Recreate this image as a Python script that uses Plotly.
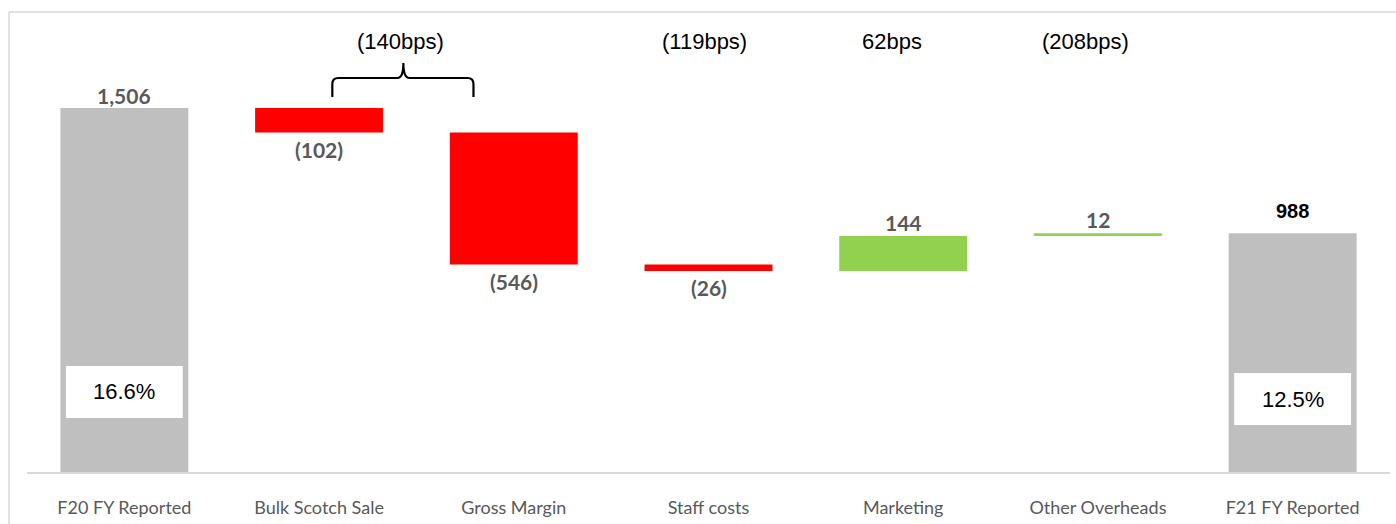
import plotly.graph_objects as go

categories = ["F20 FY Reported", "Bulk Scotch Sale", "Gross Margin", "Staff costs",
              "Marketing", "Other Overheads", "F21 FY Reported"]
values = [1506, -102, -546, -26, 144, 12, 988]
kinds = ["total", "delta", "delta", "delta", "delta", "delta", "total"]
value_labels = ["1,506", "(102)", "(546)", "(26)", "144", "12", "988"]
pct_labels = ["16.6%", "12.5%"]
pct_index = [0, 6]
bps_labels = ["(140bps)", "(119bps)", "62bps", "(208bps)"]
bps_pos = [1.42, 2.98, 3.94, 4.935]

GRAY, RED, GREEN = "#BFBFBF", "#FF0000", "#92D050"
W, H = 1396, 524
ML, MR, MT, MB = 27, 6, 12, 52
YMAX = 1903
px_per_x = (W - ML - MR) / 7.0
px_per_y = (H - MT - MB) / YMAX

bases, heights, colors = [], [], []
running = 0
for v, k in zip(values, kinds):
    if k == "total":
        bases.append(0); heights.append(v); colors.append(GRAY); running = v
    else:
        new = running + v
        bases.append(min(running, new)); heights.append(abs(v))
        colors.append(RED if v < 0 else GREEN); running = new

fig = go.Figure(go.Bar(
    x=list(range(len(categories))), y=heights, base=bases,
    marker=dict(color=colors, line=dict(width=0)), width=0.657,
    hoverinfo="skip"))

annotations = []
lab_font = dict(family="Lato", size=21, color="#595959")
for i, (v, k, lab) in enumerate(zip(values, kinds, value_labels)):
    top = bases[i] + heights[i]
    bot = bases[i]
    if k == "total":
        f = dict(lab_font) if i == 0 else dict(family="Liberation Sans", size=20, color="#000000")
        annotations.append(dict(x=i, y=top, text="<b>%s</b>" % lab, showarrow=False,
                                yanchor="bottom", yshift=(-2 if i == 0 else 9), font=f))
    elif v < 0:
        annotations.append(dict(x=i, y=bot, text="<b>%s</b>" % lab, showarrow=False,
                                yanchor="top", yshift=-2, font=lab_font))
    else:
        annotations.append(dict(x=i, y=top, text="<b>%s</b>" % lab, showarrow=False,
                                yanchor="bottom", yshift=-1, font=lab_font))

shapes = []
box_y = {0: (223, 439), 6: (194, 410)}
for i, lab in zip(pct_index, pct_labels):
    y0, y1 = box_y[i]
    shapes.append(dict(type="rect", x0=i - 0.3, x1=i + 0.3, y0=y0, y1=y1,
                       fillcolor="white", line=dict(width=0), layer="above"))
    annotations.append(dict(x=i, y=(y0 + y1) / 2, text=lab, showarrow=False,
                            font=dict(family="Liberation Sans", size=22, color="#000000")))

for lab, xp in zip(bps_labels, bps_pos):
    annotations.append(dict(x=xp, y=1779, text=lab, showarrow=False,
                            font=dict(family="Liberation Sans", size=22, color="#000000")))

# curly brace spanning Bulk Scotch Sale and Gross Margin
xl, xr, xc = 1.068, 1.793, 1.433
y_leg, y_bar, y_tip = 1551, 1630, 1692
rx, ry = 6 / px_per_x, 6 / px_per_y
path = (f"M {xl},{y_leg} L {xl},{y_bar - ry} Q {xl},{y_bar} {xl + rx},{y_bar} "
        f"L {xc - rx},{y_bar} Q {xc},{y_bar} {xc},{y_tip} "
        f"Q {xc},{y_bar} {xc + rx},{y_bar} L {xr - rx},{y_bar} "
        f"Q {xr},{y_bar} {xr},{y_bar - ry} L {xr},{y_leg}")
shapes.append(dict(type="path", path=path, line=dict(color="#000000", width=2.2)))

# outer frame (top and left edges)
fx = (9 - ML) / (W - ML - MR)
shapes.append(dict(type="line", xref="paper", yref="paper", x0=fx, x1=1.01, y0=1, y1=1,
                   line=dict(color="#D9D9D9", width=1.5)))
shapes.append(dict(type="line", xref="paper", yref="paper", x0=fx, x1=fx, y0=1, y1=-0.2,
                   line=dict(color="#D9D9D9", width=1.5)))

fig.update_layout(
    width=W, height=H, margin=dict(l=ML, r=MR, t=MT, b=MB, autoexpand=False),
    paper_bgcolor="white", plot_bgcolor="white", showlegend=False,
    annotations=annotations, shapes=shapes,
    xaxis=dict(range=[-0.5, 6.5], tickvals=list(range(7)), ticktext=categories,
               automargin=False,
               showgrid=False, zeroline=False, showline=True, linecolor="#D9D9D9", linewidth=1.5,
               ticks="outside", ticklen=19, tickcolor="rgba(0,0,0,0)",
               tickfont=dict(family="Lato", size=18, color="#595959")),
    yaxis=dict(range=[0, YMAX], visible=False, showgrid=False, zeroline=False,
               automargin=False),
)
fig.write_html("out.html")
